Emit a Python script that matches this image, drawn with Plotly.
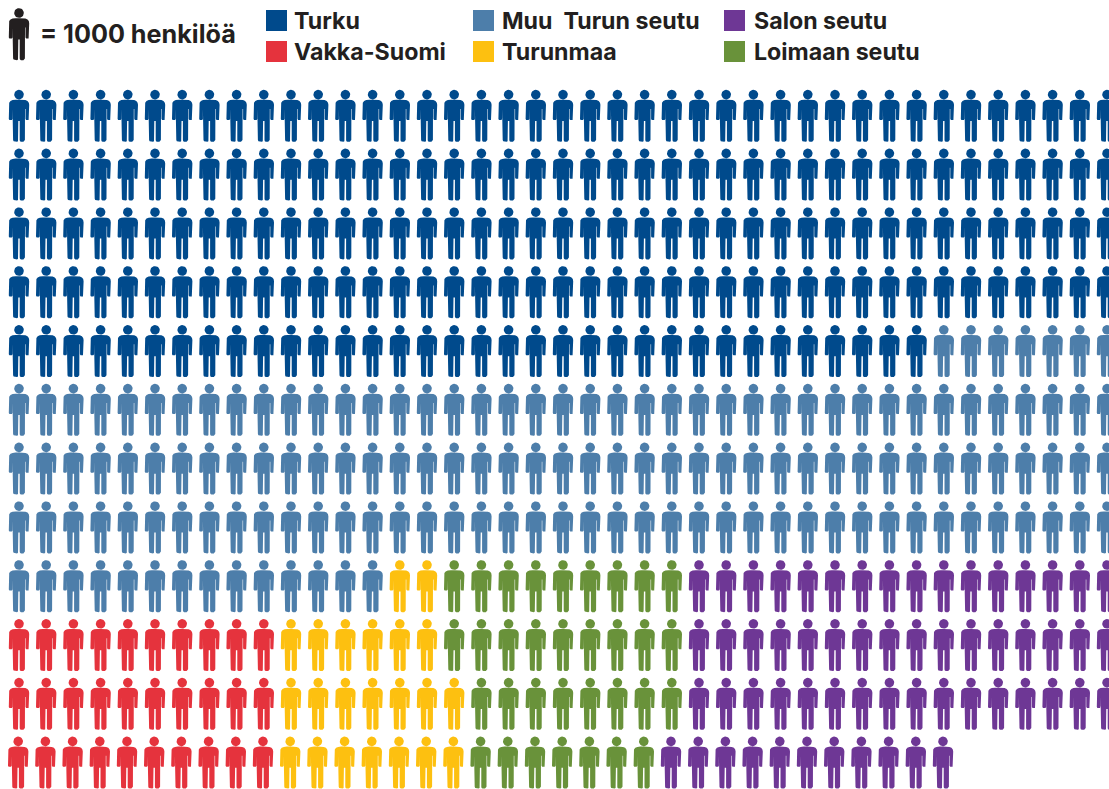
import numpy as np
import plotly.graph_objects as go

# Figures per row of the pictogram (1 figure = 1000 people), in drawing order
categories = ["Turku", "Muu  Turun seutu", "Vakka-Suomi", "Turunmaa", "Loimaan seutu", "Salon seutu"]
turku = [41, 41, 41, 41, 34, 0, 0, 0, 0, 0, 0, 0]
muu_turun_seutu = [0, 0, 0, 0, 7, 41, 41, 41, 14, 0, 0, 0]
vakka_suomi = [0, 0, 0, 0, 0, 0, 0, 0, 0, 10, 10, 10]
turunmaa = [0, 0, 0, 0, 0, 0, 0, 0, 2, 6, 7, 7]
loimaan_seutu = [0, 0, 0, 0, 0, 0, 0, 0, 9, 9, 8, 7]
salon_seutu = [0, 0, 0, 0, 0, 0, 0, 0, 16, 16, 16, 11]
series = [turku, muu_turun_seutu, vakka_suomi, turunmaa, loimaan_seutu, salon_seutu]
colors = ["#004a8c", "#4d7eaa", "#e5333d", "#fdc010", "#69923a", "#6e3795"]
legend_title = "= 1000 henkilöä"

X0, DX, Y0, DY = 19.0, 27.2, 90.0, 58.8
INK = "#231f20"

# one person glyph, in px relative to (centre x, head top)
t = np.linspace(0, 2 * np.pi, 25)
head = np.column_stack([4.8 * np.cos(t), 4.6 + 4.8 * np.sin(t)])
half = [(0, 9.8), (3.4, 9.8), (6.4, 10.1), (8.5, 11.0), (9.8, 12.7), (10.2, 14.8), (10.2, 29), (9.6, 30), (7.2, 30),
        (6.5, 29), (6.5, 19), (6.0, 19), (5.9, 50), (5.4, 51.2), (4.4, 51.8), (2.0, 51.8), (1.0, 51.2), (0.7, 50),
        (0.7, 31), (0, 31)]
body = np.array(half + [(-x, y) for x, y in reversed(half[1:-1])])


def glyphs(centres):
    xs, ys = [], []
    for cx, top in centres:
        for part in (head, body):
            xs += list(part[:, 0] + cx) + [None]
            ys += list(part[:, 1] + top) + [None]
    return xs, ys


fig = go.Figure()
for ci, (name, counts, color) in enumerate(zip(categories, series, colors)):
    centres = []
    for r, n in enumerate(counts):
        start = sum(s[r] for s in series[:ci])
        shift = -0.8 if r == len(counts) - 1 else 0
        centres += [(X0 + DX * (start + i) + shift, Y0 + DY * r) for i in range(n)]
    xs, ys = glyphs(centres)
    fig.add_trace(go.Scatter(x=xs, y=ys, mode="lines", fill="toself", fillcolor=color,
                             line=dict(width=0, color=color), name=name, hoverinfo="name", showlegend=False))

xs, ys = glyphs([(X0, 8.4)])
fig.add_trace(go.Scatter(x=xs, y=ys, mode="lines", fill="toself", fillcolor=INK,
                         line=dict(width=0, color=INK), hoverinfo="skip", showlegend=False))

font = dict(family="Inter, Liberation Sans, sans-serif", color=INK, weight=700)
fig.add_annotation(x=38, y=34, xref="x", yref="y", text=legend_title, showarrow=False, xanchor="left", yanchor="middle",
                   font=dict(size=25.2, **font))

legend_pos = [(266, 10, 292), (473, 10, 500), (266, 41, 292), (473, 41, 500), (724, 41, 752), (724, 10, 752)]
for name, color, (lx, ly, tx) in zip(categories, colors, legend_pos):
    fig.add_shape(type="rect", xref="x", yref="y", x0=lx, x1=lx + 21, y0=ly, y1=ly + 21,
                  fillcolor=color, line=dict(width=0))
    fig.add_annotation(x=tx, y=ly + 11, xref="x", yref="y", text=name, showarrow=False,
                       xanchor="left", yanchor="middle", font=dict(size=23.2, **font))

fig.update_layout(width=1109, height=789, margin=dict(l=0, r=0, t=0, b=0),
                  paper_bgcolor="white", plot_bgcolor="white",
                  xaxis=dict(range=[0, 1109], visible=False, fixedrange=True),
                  yaxis=dict(range=[789, 0], visible=False, fixedrange=True))
fig.write_html("out.html", config=dict(displayModeBar=False),
               post_script="document.body.style.margin='0';")
